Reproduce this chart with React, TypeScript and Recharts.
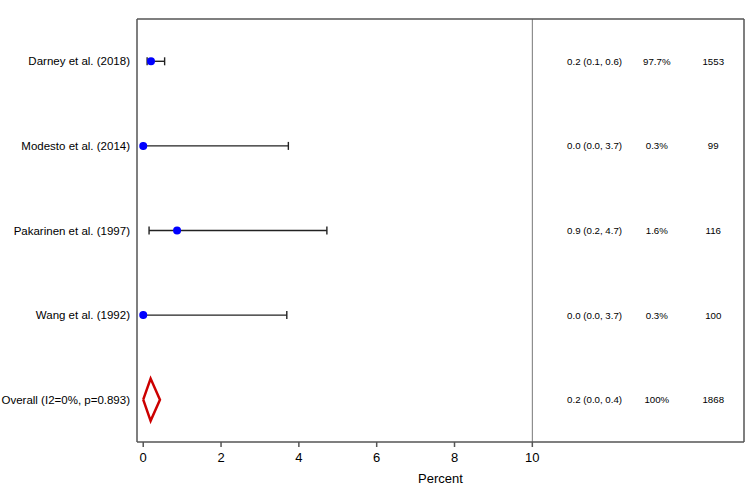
import {
  ScatterChart,
  Scatter,
  XAxis,
  YAxis,
  ErrorBar,
  ReferenceLine,
} from "recharts";

const studies = [
  "Darney et al. (2018)",
  "Modesto et al. (2014)",
  "Pakarinen et al. (1997)",
  "Wang et al. (1992)",
  "Overall (I2=0%, p=0.893)",
];
const pct = [0.2, 0.0, 0.87, 0.0];
const ciLow = [0.1, 0.0, 0.15, 0.0];
const ciHigh = [0.55, 3.73, 4.72, 3.69];
const pooled = { est: 0.19, low: 0.0, high: 0.43 };

const pctText = ["0.2 (0.1, 0.6)", "0.0 (0.0, 3.7)", "0.9 (0.2, 4.7)", "0.0 (0.0, 3.7)", "0.2 (0.0, 0.4)"];
const weightText = ["97.7%", "0.3%", "1.6%", "0.3%", "100%"];
const nText = ["1553", "99", "116", "100", "1868"];

const headers = ["Pct(95%CI)", "Weight", "N"];
const columnX = [11.6, 13.2, 14.65];
const xTicks = [0, 2, 4, 6, 8, 10];
const xMin = -0.16;
const xMax = 15.44;

const font = "'Liberation Sans', Arial, sans-serif";

const studyPoints = pct.map((v, i) => ({
  x: v,
  y: i,
  err: [v - ciLow[i], ciHigh[i] - v],
}));

const diamond = [
  { x: pooled.low, y: 4 },
  { x: pooled.est, y: 3.75 },
  { x: pooled.high, y: 4 },
  { x: pooled.est, y: 4.25 },
  { x: pooled.low, y: 4 },
];

const columns = [pctText, weightText, nText].map((col, c) =>
  col.map((t, i) => ({ x: columnX[c], y: i, text: t }))
);

const TextCell = (props: any) => (
  <text
    x={props.cx}
    y={props.cy}
    textAnchor="middle"
    dominantBaseline="central"
    fontSize={9.7}
    fontFamily={font}
    fill="#000"
  >
    {props.payload.text}
  </text>
);

const StudyTick = (props: any) => (
  <text
    x={props.x}
    y={props.y}
    textAnchor="end"
    dominantBaseline="central"
    fontSize={11.5}
    fontFamily={font}
    fill="#000"
  >
    {studies[props.payload.value]}
  </text>
);

const App = () => {
  return (
    <div style={{ position: "absolute", left: 0, top: 0, background: "#fff" }}>
      <ScatterChart
        width={747}
        height={486}
        margin={{ top: 0, right: 3, left: 0, bottom: 0 }}
      >
        <XAxis
          dataKey="x"
          type="number"
          domain={[xMin, xMax]}
          ticks={xTicks}
          allowDataOverflow
          height={44}
          stroke="#555"
          strokeWidth={1.5}
          tickSize={5}
          tickMargin={6}
          tick={{ fill: "#000", fontSize: 13, fontFamily: font }}
          label={{
            value: "Percent",
            position: "insideBottom",
            offset: 3,
            fill: "#000",
            fontSize: 13,
            fontFamily: font,
          }}
        />
        <XAxis
          xAxisId="top"
          orientation="top"
          type="number"
          domain={[xMin, xMax]}
          ticks={columnX}
          allowDataOverflow
          height={19}
          stroke="#555"
          strokeWidth={1.5}
          tickLine={false}
          tickFormatter={(v: number) => headers[columnX.indexOf(v)]}
          tick={{ fill: "#000", fontSize: 11, fontFamily: font }}
        />
        <YAxis
          dataKey="y"
          type="number"
          domain={[-0.5, 4.5]}
          reversed
          ticks={[0, 1, 2, 3, 4]}
          width={137}
          stroke="#555"
          strokeWidth={1.5}
          tickLine={false}
          tickSize={5}
          tickMargin={2}
          tick={<StudyTick />}
        />
        <ReferenceLine x={10} stroke="#777" strokeWidth={1} />
        <ReferenceLine x={xMax} stroke="#555" strokeWidth={1.5} />
        <Scatter
          data={diamond}
          line={{ stroke: "#CC0000", strokeWidth: 2.5 }}
          lineJointType="linear"
          shape={() => <g />}
          isAnimationActive={false}
        />
        <Scatter data={studyPoints} fill="#0000FF" isAnimationActive={false}
          shape={(p: any) => <circle cx={p.cx} cy={p.cy} r={4} fill="#0000FF" />}
        >
          <ErrorBar dataKey="err" direction="x" width={4} stroke="#222" strokeWidth={1.4} />
        </Scatter>
        {columns.map((col, c) => (
          <Scatter key={c} data={col} shape={TextCell} isAnimationActive={false} />
        ))}
      </ScatterChart>
    </div>
  );
};

export default App;
